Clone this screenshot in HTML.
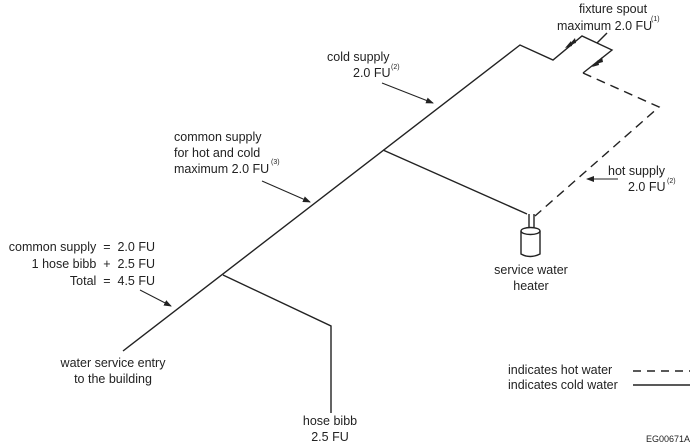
<!DOCTYPE html>
<html><head><meta charset="utf-8"><style>
body{margin:0;background:#fff;}
svg{display:block;font-family:"Liberation Sans",Arial,sans-serif;font-size:12.5px;fill:#222;}
</style></head><body>
<svg width="693" height="446" viewBox="0 0 693 446" xmlns="http://www.w3.org/2000/svg">
<defs><marker id="a" markerWidth="8" markerHeight="6" refX="7" refY="3" orient="auto" markerUnits="userSpaceOnUse"><path d="M0,0 L8,3 L0,6 z" fill="#222"/></marker></defs>
<g stroke="#222" stroke-width="1.4" fill="none">
<polyline points="123,351 520,45 553,60 582,36 597,43"/>
<line x1="597" y1="43" x2="607" y2="33"/>
<polyline points="597,43 612,50 583,73"/>
<polyline points="223,275 331,326 331,413"/>
<polyline points="383,150 527,214"/>
<path d="M529,214 V227 M534,214 V227"/>
<polyline points="583,73 659,107 535,216" stroke-dasharray="9,6"/>
<path d="M521,231 V254 Q530,259 540,254 V231"/>
<ellipse cx="530.5" cy="231" rx="9.5" ry="3.5"/>
<line x1="633" y1="371" x2="690" y2="371" stroke-dasharray="8,6"/>
<line x1="633" y1="385" x2="690" y2="385"/>
</g>
<g stroke="#222" stroke-width="1">
<line x1="382" y1="83" x2="433" y2="103" marker-end="url(#a)"/>
<line x1="262" y1="181" x2="310" y2="202" marker-end="url(#a)"/>
<line x1="140" y1="290" x2="171" y2="306" marker-end="url(#a)"/>
<line x1="618" y1="179" x2="587" y2="179" marker-end="url(#a)"/>
</g>
<g fill="#222"><path d="M565,48 l6,-7 l1,5z"/><path d="M569,45 l6,-7 l1,5z"/><path d="M592,67 l6,-7 l1,5z"/><path d="M596,64 l6,-7 l1,5z"/></g>
<text x="613" y="13" text-anchor="middle">fixture spout</text>
<text x="557" y="30">maximum 2.0 FU</text><text x="651" y="21" font-size="7">(1)</text>
<text x="327" y="61">cold supply</text>
<text x="353" y="77">2.0 FU</text><text x="391" y="69" font-size="7">(2)</text>
<text x="174" y="141">common supply</text>
<text x="174" y="157">for hot and cold</text>
<text x="174" y="173">maximum 2.0 FU</text><text x="271" y="164" font-size="7">(3)</text>
<text x="155" y="251" text-anchor="end">common supply &#160;=&#160; 2.0 FU</text>
<text x="155" y="268" text-anchor="end">1 hose bibb &#160;+&#160; 2.5 FU</text>
<text x="155" y="285" text-anchor="end">Total &#160;=&#160; 4.5 FU</text>
<text x="608" y="175">hot supply</text>
<text x="628" y="191">2.0 FU</text><text x="667" y="183" font-size="7">(2)</text>
<text x="531" y="274" text-anchor="middle">service water</text>
<text x="531" y="290" text-anchor="middle">heater</text>
<text x="113" y="367" text-anchor="middle">water service entry</text>
<text x="113" y="383" text-anchor="middle">to the building</text>
<text x="330" y="425" text-anchor="middle">hose bibb</text>
<text x="330" y="441" text-anchor="middle">2.5 FU</text>
<text x="508" y="374">indicates hot water</text>
<text x="508" y="389">indicates cold water</text>
<text x="690" y="442" text-anchor="end" font-size="9">EG00671A</text>
</svg>
</body></html>
